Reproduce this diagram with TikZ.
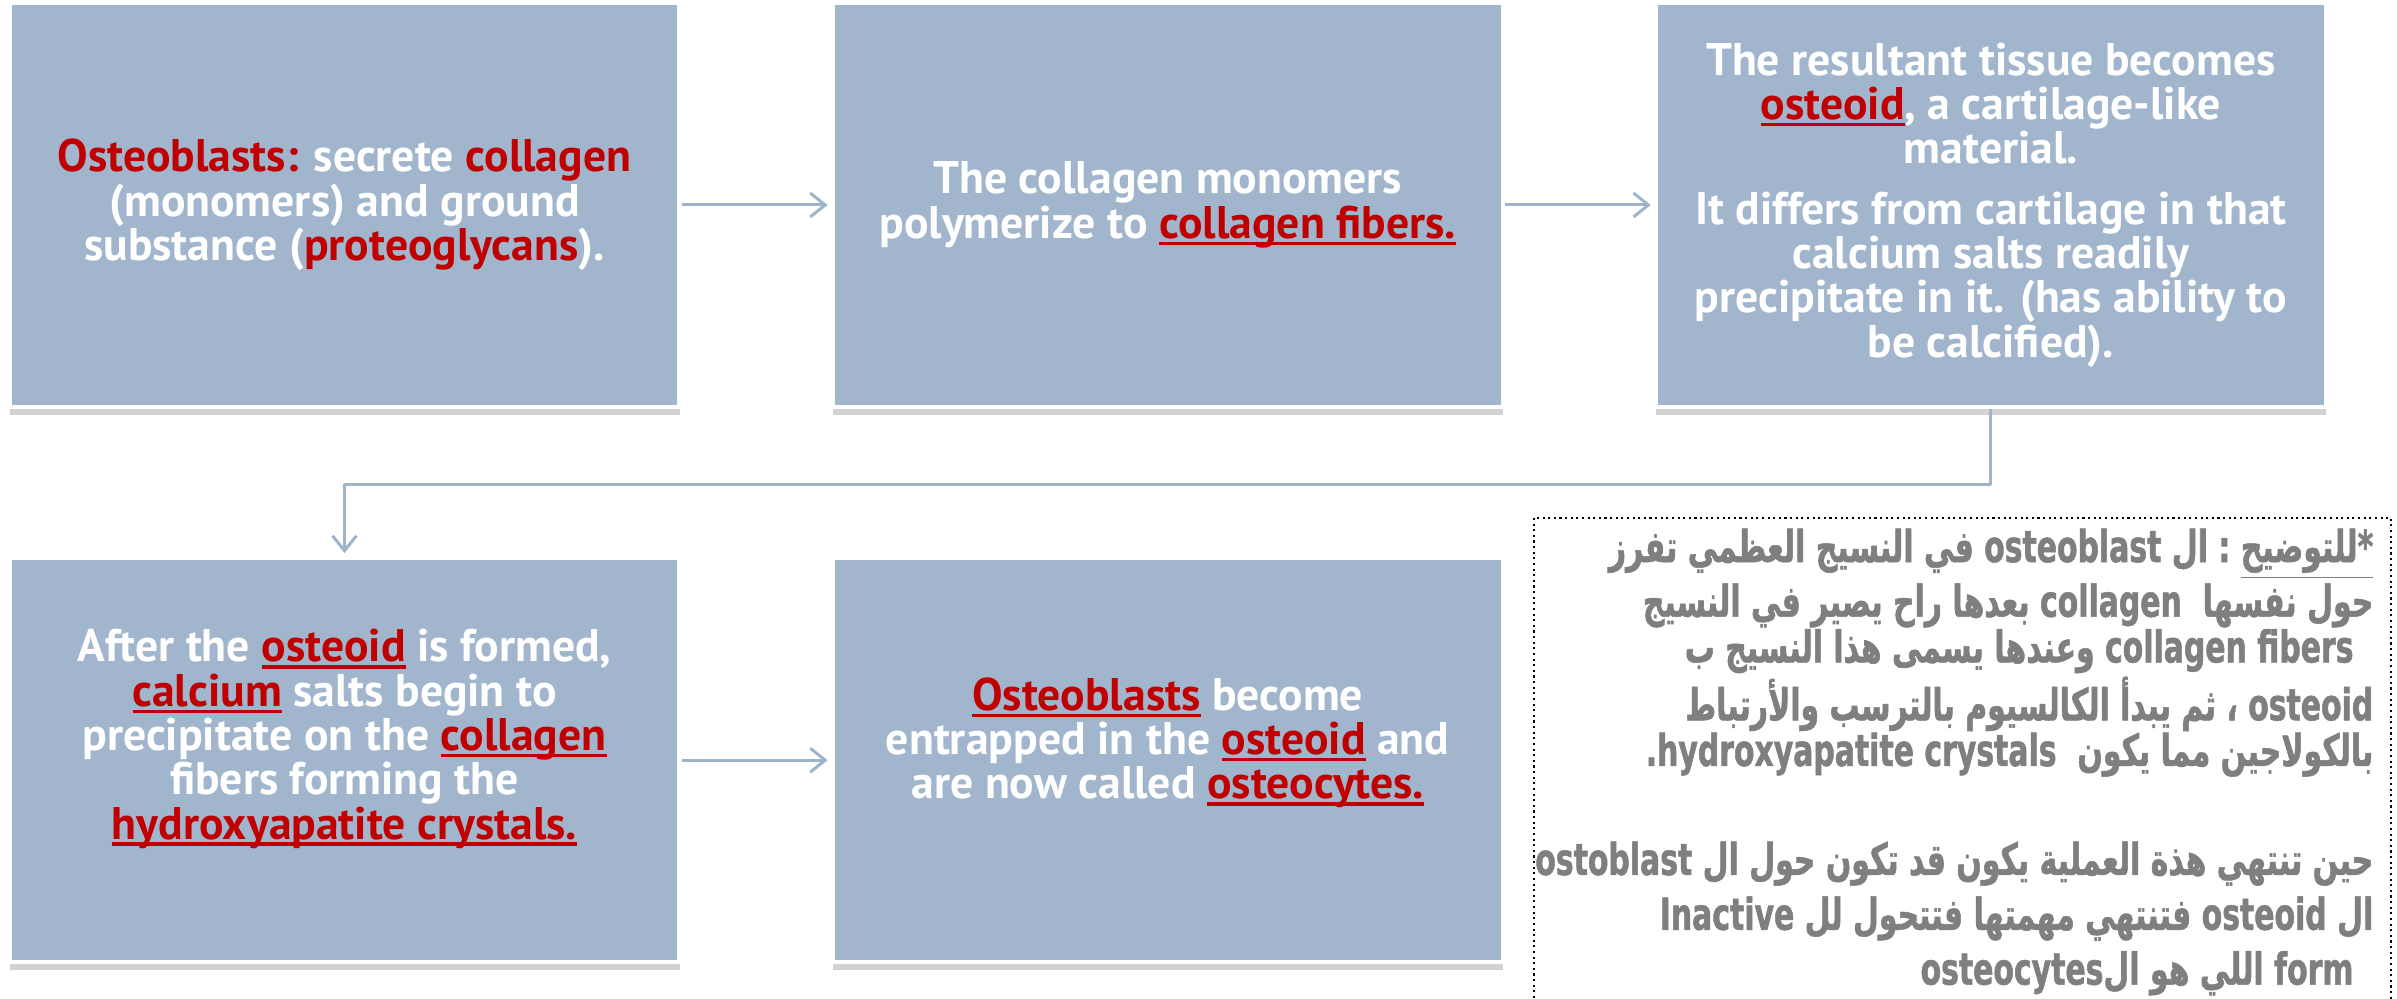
\documentclass[tikz,border=0pt]{standalone}
\usepackage{fontspec}
\newfontfamily\boxfont{PT Sans}
\newfontfamily\arabicfont[Script=Arabic,FakeStretch=0.68,FakeBold=1.2,BoldFont={DejaVu Sans Bold}]{DejaVu Sans}
\newfontfamily\latinfont[FakeStretch=0.68,FakeBold=1.2,BoldFont={DejaVu Sans Bold}]{DejaVu Sans}
\TeXXeTstate=1
\usetikzlibrary{arrows.meta,positioning,shadows}

\definecolor{boxblue}{RGB}{161,182,205}
\definecolor{linkblue}{RGB}{158,180,204}
\definecolor{keyred}{RGB}{192,0,0}
\definecolor{notegray}{RGB}{127,127,127}

\newcommand\boxtext{\boxfont\bfseries\fontsize{13}{12.6}\selectfont}
\newcommand\notetext{\arabicfont\bfseries\fontsize{12.5}{13}\selectfont}
% red words, with or without the underline
\newcommand\keyword[1]{\textcolor{keyred}{#1}}
\newcommand\keyline[1]{\textcolor{keyred}{\setbox0\hbox{#1}\rlap{\rule[-0.15em]{\wd0}{0.075em}}\box0}}
% right-to-left line, and latin words inside it
\newcommand\rtl[1]{\beginR #1\endR}
\newcommand\ltr[1]{\beginL{\latinfont #1}\endL}

\begin{document}
\begin{tikzpicture}[x=0.1mm, y=-0.1mm, line join=round,
  stepbox/.style={rectangle, fill=boxblue, draw=white, line width=1.2pt,
    minimum width=67mm, minimum height=40.4mm, inner sep=0pt,
    align=center, text=white, font=\boxtext,
    drop shadow={shadow xshift=0mm, shadow yshift=-0.8mm, opacity=0.25, fill=black!70}},
  link/.style={draw=linkblue, line width=0.85pt, shorten >=0.3mm,
    -{Straight Barb[length=1.5mm, width=2.4mm]}},
  note/.style={align=right, text=notegray, font=\notetext, inner sep=0pt}]
  \useasboundingbox (0,0) rectangle (2397,999);
  % upper row of steps
  \node[stepbox] (b1) at (344.5,205)
    {\keyword{Osteoblasts:} secrete \keyword{collagen}\\
     (monomers) and ground\\
     substance (\keyword{proteoglycans}).};
  \node[stepbox, right=14.9mm of b1] (b2)
    {The collagen monomers\\
     polymerize to \keyline{collagen fibers.}};
  \node[stepbox, right=14.9mm of b2] (b3)
    {The resultant tissue becomes\\
     \keyline{osteoid}, a cartilage-like\\
     material.\\[1.6mm]
     It differs from cartilage in that\\
     calcium salts readily\\
     precipitate in it. (has ability to\\
     be calcified).};
  % lower row of steps (text sits a bit above the middle)
  \node[stepbox, below=14.7mm of b1, text depth=5.2mm] (b4)
    {After the \keyline{osteoid} is formed,\\
     \keyline{calcium} salts begin to\\
     precipitate on the \keyline{collagen}\\
     fibers forming the\\
     \keyline{hydroxyapatite crystals.}};
  \node[stepbox, right=14.9mm of b4, text depth=4.4mm] (b5)
    {\keyline{Osteoblasts} become\\
     entrapped in the \keyline{osteoid} and\\
     are now called \keyline{osteocytes.}};
  % connectors
  \draw[link] (b1) -- (b2);
  \draw[link] (b2) -- (b3);
  \draw[link] (b3.south) -- ++(0,75) -| (b4.north);
  \draw[link] (b4) -- (b5);
  % the explanation in arabic, in a dotted frame cut by the page edge
  \draw[densely dotted, line width=0.6pt] (1534,518) rectangle (2391,1030);
  \node[note, anchor=north east] (expl) at (2374,528)
    {\rtl{\underline{\beginR*\kern0pt للتوضيح\endR}\ :\ ال \ltr{osteoblast} في النسيج العظمي تفرز}\\
     \rtl{حول نفسها \ \ltr{collagen} بعدها راح يصير في النسيج}\\
     \rtl{\kern0.45em\ltr{collagen fibers} وعندها يسمى هذا النسيج ب}\\
     \rtl{\ltr{osteoid} ، ثم يبدأ الكالسيوم بالترسب والأرتباط}\\
     \rtl{بالكولاجين مما يكون \ \ltr{hydroxyapatite crystals}.}\\[18pt]
     \rtl{حين تنتهي هذة العملية يكون قد تكون حول ال \ltr{ostoblast}}\\[2.6pt]
     \rtl{ال \ltr{osteoid} فتنتهي مهمتها فتتحول لل \ltr{Inactive}}\\[2.6pt]
     \rtl{\kern0.45em\ltr{form} اللي هو ال\ltr{osteocytes}}};
\end{tikzpicture}
\end{document}
